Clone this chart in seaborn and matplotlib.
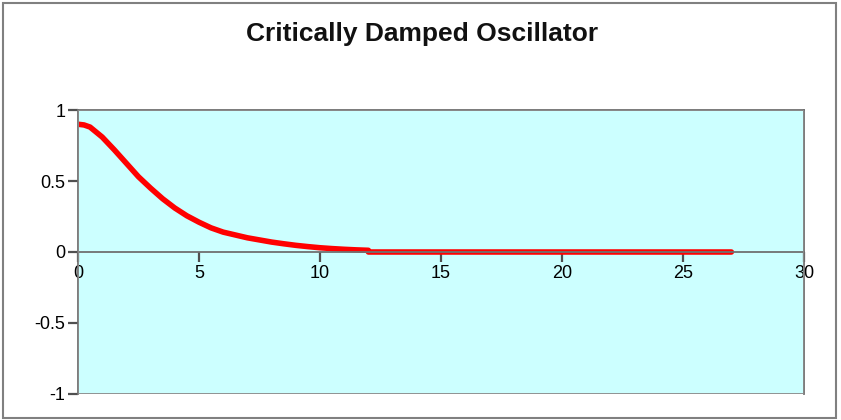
import pandas as pd
import seaborn as sns
import matplotlib.pyplot as plt
from matplotlib.patches import Rectangle

# values
time = [0, 0.25, 0.5, 1, 1.5, 2, 2.5, 3, 3.5, 4, 4.5, 5, 5.5, 6, 6.5, 7, 7.5,
        8, 8.5, 9, 9.5, 10, 10.5, 11, 11.5, 12, 12, 27]
position = [0.90, 0.895, 0.88, 0.81, 0.72, 0.625, 0.53, 0.45, 0.375, 0.31,
            0.255, 0.21, 0.17, 0.14, 0.12, 0.10, 0.085, 0.07, 0.058, 0.047,
            0.038, 0.03, 0.024, 0.019, 0.015, 0.012, 0.0, 0.0]
x_ticks = [0, 5, 10, 15, 20, 25, 30]
y_ticks = [-1, -0.5, 0, 0.5, 1]
y_labels = ['-1', '-0.5', '0', '0.5', '1']
title = 'Critically Damped Oscillator'

df = pd.DataFrame({'t': time, 'x': position})

sns.set_theme(style='white')
plt.rcParams['font.family'] = ['Liberation Sans', 'DejaVu Sans']

fig = plt.figure(figsize=(8.41, 4.2), dpi=100)
ax = fig.add_axes([0.0927, 0.062, 0.8633, 0.676])
ax.set_facecolor('#CCFFFF')

sns.lineplot(data=df, x='t', y='x', ax=ax, color='#FF0000', linewidth=4,
             estimator=None, sort=False)

ax.set_xlim(0, 30)
ax.set_ylim(-1, 1)
ax.set_xticks(x_ticks)
ax.set_yticks(y_ticks)
ax.set_yticklabels(y_labels)
ax.set_xlabel('')
ax.set_ylabel('')

# x axis sits on the zero line, like the excel chart
ax.spines['bottom'].set_position(('data', 0))
for side in ['left', 'top', 'right', 'bottom']:
    ax.spines[side].set_color('#707070')
    ax.spines[side].set_linewidth(1.3)
ax.add_patch(Rectangle((0, 0), 1, 1, transform=ax.transAxes, fill=False,
                       edgecolor='#8a8a8a', linewidth=1.3, zorder=5))

ax.tick_params(axis='both', which='major', direction='out', length=7,
               width=1.6, color='#505050', labelsize=13, labelcolor='black',
               left=True, bottom=True)
ax.tick_params(axis='x', pad=2)
ax.tick_params(axis='y', pad=2)

fig.text(0.502, 0.92, title, ha='center', va='center', fontsize=19,
         fontweight='bold', color='#111111')

# outer chart frame
fig.patches.append(Rectangle((0.003, 0.005), 0.991, 0.988, transform=fig.transFigure,
                             fill=False, edgecolor='#808080', linewidth=1.5))

fig.savefig('out.png', dpi=100)
